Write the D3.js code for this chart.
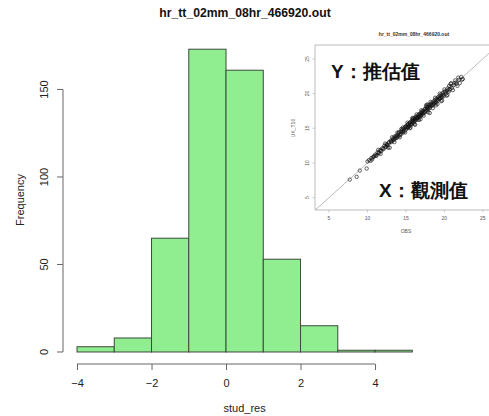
<!DOCTYPE html>
<html>
<head>
<meta charset="utf-8">
<script src="https://cdn.jsdelivr.net/npm/d3@7"></script>
<style>
  html, body { margin: 0; padding: 0; background: #fff; }
  svg { display: block; }
  text { font-family: "Liberation Sans", Arial, sans-serif; }
</style>
</head>
<body>
<svg id="chart" width="489" height="416"></svg>
<script>
// ---- Data ----
const title = "hr_tt_02mm_08hr_466920.out";
const xLabel = "stud_res";
const yLabel = "Frequency";
const breaks = [-4, -3, -2, -1, 0, 1, 2, 3, 4, 5];
const counts = [3, 8, 65, 173, 161, 53, 15, 1, 1];
const xTicks = [-4, -2, 0, 2, 4];
const yTicks = [0, 50, 100, 150];

// inset scatter (OBS vs UK_T10)
const insetTitle = "hr_tt_02mm_08hr_466920.out";
const insetXLabel = "OBS";
const insetYLabel = "UK_T10";
const insetTicks = [5, 10, 15, 20, 25];
const insetYText = "Y：推估值";
const insetXText = "X：觀測值";
const scatterPoints = [
  [7.7,7.6],[8.6,8.0],[9.0,8.9],[9.9,9.2],[10.0,10.2],[10.2,10.4],[10.4,10.3],[10.5,10.7],[10.7,10.8],[10.9,11.0],
  [11.0,11.2],[11.2,11.1],[11.3,11.5],[11.5,11.4],[11.6,11.8],[11.8,11.7],[11.9,12.1],[12.1,12.0],[12.2,12.5],[12.4,12.3],
  [12.5,12.7],[12.6,12.5],[12.8,13.0],[12.9,12.2],[13.0,13.2],[13.1,13.0],[13.3,13.5],[13.4,13.3],[13.5,13.8],[13.6,13.5],
  [13.7,13.9],[13.8,13.6],[13.9,14.1],[14.0,13.8],[14.1,14.4],[14.2,14.1],[14.3,14.5],[14.4,14.2],[14.5,14.8],[14.6,14.5],
  [14.7,14.9],[14.8,14.6],[14.9,15.2],[15.0,14.8],[15.0,15.3],[15.1,15.0],[15.2,15.5],[15.3,15.1],[15.3,15.6],[15.4,15.3],
  [15.5,15.8],[15.5,15.4],[15.6,15.9],[15.7,15.5],[15.8,16.1],[15.8,15.7],[15.9,16.2],[16.0,15.8],[16.0,16.4],[16.1,16.0],
  [16.2,16.5],[16.2,16.1],[16.3,16.7],[16.4,16.2],[16.4,16.6],[16.5,16.4],[16.6,16.9],[16.6,16.5],[16.7,17.0],[16.8,16.6],
  [16.8,17.1],[16.9,16.8],[17.0,17.3],[17.0,16.9],[17.1,17.4],[17.2,17.0],[17.2,17.5],[17.3,17.2],[17.4,17.7],[17.5,17.3],
  [17.5,17.8],[17.6,17.5],[17.7,18.0],[17.8,17.6],[17.8,18.1],[17.9,17.8],[18.0,18.3],[18.1,17.9],[18.2,18.5],[18.3,18.2],
  [18.4,18.7],[18.5,18.3],[18.6,18.9],[18.7,18.5],[18.8,19.1],[18.9,18.7],[19.0,19.3],[19.1,18.9],[19.2,19.5],[19.3,19.2],
  [19.4,19.7],[19.5,19.3],[19.6,19.9],[19.7,19.5],[19.8,20.1],[19.9,19.6],[20.0,20.3],[20.2,20.0],[20.4,20.7],[20.6,20.3],
  [20.8,21.0],[21.0,20.8],[21.3,21.5],[21.6,21.4],[21.9,22.0],[22.2,22.4],[22.4,22.1],
  [14.05,14.3],[14.25,14.0],[14.45,14.6],[14.65,14.4],[14.85,15.1],[15.05,15.1],[15.25,15.2],[15.45,15.7],[15.65,15.6],[15.85,15.9],
  [16.05,16.2],[16.25,16.3],[16.45,16.5],[16.65,16.7],[16.85,16.9],[17.05,17.1],[17.25,17.3],[17.45,17.4],[17.65,17.7],[17.85,17.9],
  [18.05,18.1],[18.25,18.4],[18.45,18.4],[18.65,18.7],[18.85,18.8],[19.05,19.1],[19.25,19.3],[19.45,19.4],[19.65,19.7],[19.85,19.8],
  [20.1,20.2],[20.3,20.4],[20.5,20.5],[20.7,20.6],[21.2,21.2],[21.5,21.6],[13.05,13.1],[13.25,13.2],[13.45,13.5],[13.65,13.7],
  [13.85,13.8],[12.35,12.4],[12.55,12.6],[12.75,12.8],[11.45,11.5],[11.75,11.8],[12.05,12.1],[10.6,10.5],[10.8,10.9],[11.1,11.0],
  [19.6,18.9],[18.1,17.2],[16.2,15.5],[20.9,21.5],[17.7,18.4],[20.4,19.8],[22.0,21.5],[21.8,22.3],
  [12.3,12.8],[12.7,12.2],[13.2,13.7],[13.5,13.0],[13.9,14.4],[14.2,13.7],[14.6,15.1],[14.9,14.4],[15.2,15.8],[15.5,15.0],
  [15.8,16.4],[16.1,15.6],[16.4,17.0],[16.7,16.2],[17.0,17.6],[17.3,16.8],[17.6,18.2],[17.9,17.3],[18.2,18.8],[18.5,17.9],
  [18.8,19.4],[19.1,18.5],[19.4,20.0],[19.7,19.0],[20.0,20.6],[20.3,19.7],[20.6,21.1],[21.1,20.5],[21.4,21.9],[21.7,21.1],
  [11.4,11.9],[11.7,11.3],[15.9,16.5],[16.9,16.3],[17.8,18.4],[18.9,18.3],[14.4,14.9],[15.6,15.1],[20.8,21.4],[22.3,22.0]
];

// ---- Drawing ----
const svg = d3.select("#chart");
const x = d3.scaleLinear().domain([-4.36, 5.36]).range([63.6, 425.7]);
const y = d3.scaleLinear().domain([-6.92, 179.92]).range([364.1, 37.1]);

const bins = counts.map((c, i) => ({ x0: breaks[i], x1: breaks[i + 1], c }));

svg.append("text")
  .attr("x", 245).attr("y", 17)
  .attr("text-anchor", "middle")
  .attr("font-size", 12.2).attr("font-weight", "bold").attr("fill", "#111")
  .text(title);

svg.append("g").selectAll("rect").data(bins).join("rect")
  .attr("x", d => x(d.x0))
  .attr("y", d => y(d.c))
  .attr("width", d => x(d.x1) - x(d.x0))
  .attr("height", d => y(0) - y(d.c))
  .attr("fill", "#90ee90")
  .attr("stroke", "#3d4a3d")
  .attr("stroke-width", 1);

// x axis
const axY = 364;
const gx = svg.append("g").attr("transform", `translate(0,${axY})`)
  .call(d3.axisBottom(x).tickValues(xTicks).tickSize(6).tickPadding(9).tickFormat(d3.format("d")));
gx.select(".domain").remove();
gx.selectAll(".tick line").attr("stroke", "#666");
gx.selectAll(".tick text").attr("font-size", 11).attr("fill", "#222").attr("font-family", "Liberation Sans, Arial, sans-serif");
gx.append("line").attr("x1", x(xTicks[0])).attr("x2", x(xTicks[xTicks.length - 1]))
  .attr("y1", 0).attr("y2", 0).attr("stroke", "#666");

svg.append("text").attr("x", (x.range()[0] + x.range()[1]) / 2).attr("y", 412)
  .attr("text-anchor", "middle").attr("font-size", 11).attr("fill", "#222").text(xLabel);

// y axis
const axX = 63;
const gy = svg.append("g").attr("transform", `translate(${axX},0)`);
gy.append("line").attr("x1", 0).attr("x2", 0).attr("y1", y(yTicks[0])).attr("y2", y(yTicks[yTicks.length - 1])).attr("stroke", "#666");
gy.selectAll("line.tk").data(yTicks).join("line").attr("class", "tk")
  .attr("x1", -6).attr("x2", 0).attr("y1", d => y(d)).attr("y2", d => y(d)).attr("stroke", "#666");
gy.selectAll("text").data(yTicks).join("text")
  .attr("transform", d => `translate(-15,${y(d)}) rotate(-90)`)
  .attr("text-anchor", "middle").attr("font-size", 11).attr("fill", "#222")
  .text(d => d);

svg.append("text").attr("transform", `translate(24,200) rotate(-90)`)
  .attr("text-anchor", "middle").attr("font-size", 11).attr("fill", "#222").text(yLabel);

// ---- Inset scatter ----
const ix = d3.scaleLinear().domain([3.18, 25.8]).range([315, 489]);
const iy = d3.scaleLinear().domain([3.22, 27.0]).range([210, 45]);
const inset = svg.append("g");
inset.append("rect").attr("x", 288).attr("y", 26).attr("width", 201).attr("height", 214).attr("fill", "#fff");
inset.append("text").attr("x", 414).attr("y", 36).attr("text-anchor", "middle")
  .attr("font-size", 5).attr("font-weight", "bold").attr("fill", "#333").text(insetTitle);

inset.append("clipPath").attr("id", "iclip").append("rect")
  .attr("x", 315).attr("y", 45).attr("width", 174).attr("height", 165);
inset.append("line")
  .attr("x1", ix(3.18)).attr("y1", iy(3.18)).attr("x2", ix(27)).attr("y2", iy(27))
  .attr("stroke", "#bbb").attr("stroke-width", 1).attr("clip-path", "url(#iclip)");
inset.append("g").selectAll("circle").data(scatterPoints).join("circle")
  .attr("cx", d => ix(d[0])).attr("cy", d => iy(d[1])).attr("r", 1.7)
  .attr("fill", "none").attr("stroke", "#111").attr("stroke-width", 0.8).attr("stroke-opacity", 0.8);
inset.append("polyline")
  .attr("points", `489,45 315,45 315,210 489,210`)
  .attr("fill", "none").attr("stroke", "#aaa").attr("stroke-width", 0.8);

inset.selectAll("line.ixt").data(insetTicks).join("line").attr("class", "ixt")
  .attr("x1", d => ix(d)).attr("x2", d => ix(d)).attr("y1", 210).attr("y2", 212.5).attr("stroke", "#aaa").attr("stroke-width", 0.6);
inset.selectAll("text.ixl").data(insetTicks).join("text").attr("class", "ixl")
  .attr("x", d => ix(d)).attr("y", 220).attr("text-anchor", "middle")
  .attr("font-size", 5).attr("fill", "#555").text(d => d);
inset.selectAll("line.iyt").data(insetTicks).join("line").attr("class", "iyt")
  .attr("x1", 312.5).attr("x2", 315).attr("y1", d => iy(d)).attr("y2", d => iy(d)).attr("stroke", "#aaa").attr("stroke-width", 0.6);
inset.selectAll("text.iyl").data(insetTicks).join("text").attr("class", "iyl")
  .attr("transform", d => `translate(309,${iy(d)}) rotate(-90)`).attr("text-anchor", "middle")
  .attr("font-size", 5).attr("fill", "#555").text(d => d);
inset.append("text").attr("x", 406).attr("y", 233).attr("text-anchor", "middle")
  .attr("font-size", 5).attr("fill", "#555").text(insetXLabel);
inset.append("text").attr("transform", `translate(295,128) rotate(-90)`).attr("text-anchor", "middle")
  .attr("font-size", 5).attr("fill", "#555").text(insetYLabel);

inset.append("text").attr("x", 331).attr("y", 78)
  .attr("font-family", "'Noto Sans CJK TC', 'Noto Sans CJK SC', sans-serif")
  .attr("font-size", 19).attr("font-weight", "bold").attr("fill", "#111").text(insetYText);
inset.append("text").attr("x", 379).attr("y", 197)
  .attr("font-family", "'Noto Sans CJK TC', 'Noto Sans CJK SC', sans-serif")
  .attr("font-size", 19).attr("font-weight", "bold").attr("fill", "#111").text(insetXText);
</script>
</body>
</html>
